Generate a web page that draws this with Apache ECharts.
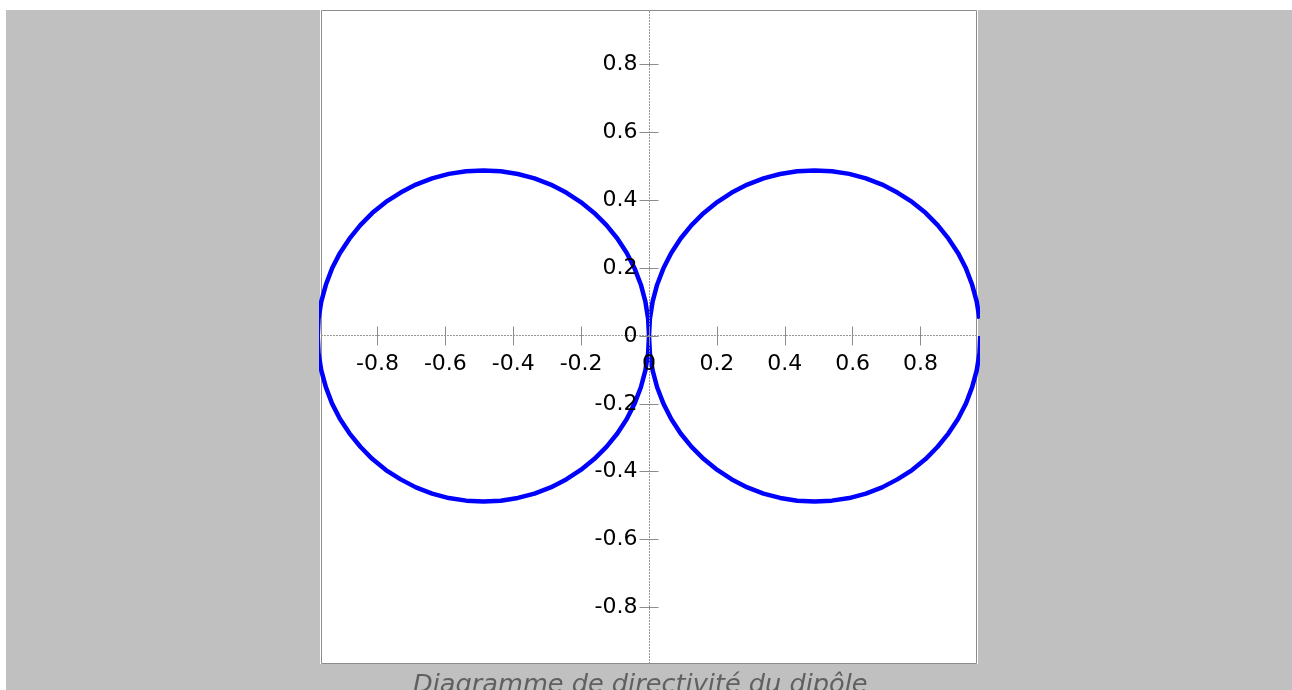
<!DOCTYPE html>
<html>
<head>
<meta charset="utf-8">
<title>Diagramme de directivité du dipôle</title>
<script src="https://cdn.jsdelivr.net/npm/echarts@6/dist/echarts.min.js"></script>
<style>
  html, body { margin: 0; padding: 0; background: #ffffff; }
  #chart { position: absolute; left: 6px; top: 10px; width: 1286px; height: 680px; background: #c0c0c0; }
</style>
</head>
<body>
<div id="chart"></div>
<script>
// Radiation pattern of the dipole, sampled every 3 degrees (polar: angle in degrees, radius)
const angles = [];
for (let a = 3; a <= 360; a += 3) angles.push(a);

const radii = [
  0.975, 0.971, 0.964, 0.955, 0.943, 0.928, 0.911, 0.892, 0.870, 0.845,
  0.819, 0.790, 0.759, 0.725, 0.690, 0.653, 0.614, 0.574, 0.532, 0.488,
  0.443, 0.397, 0.350, 0.302, 0.253, 0.203, 0.153, 0.102, 0.051, 0.000,
  0.051, 0.102, 0.153, 0.203, 0.253, 0.302, 0.350, 0.397, 0.443, 0.488,
  0.532, 0.574, 0.614, 0.653, 0.690, 0.725, 0.759, 0.790, 0.819, 0.845,
  0.870, 0.892, 0.911, 0.928, 0.943, 0.955, 0.964, 0.971, 0.975, 0.976,
  0.975, 0.971, 0.964, 0.955, 0.943, 0.928, 0.911, 0.892, 0.870, 0.845,
  0.819, 0.790, 0.759, 0.725, 0.690, 0.653, 0.614, 0.574, 0.532, 0.488,
  0.443, 0.397, 0.350, 0.302, 0.253, 0.203, 0.153, 0.102, 0.051, 0.000,
  0.051, 0.102, 0.153, 0.203, 0.253, 0.302, 0.350, 0.397, 0.443, 0.488,
  0.532, 0.574, 0.614, 0.653, 0.690, 0.725, 0.759, 0.790, 0.819, 0.845,
  0.870, 0.892, 0.911, 0.928, 0.943, 0.955, 0.964, 0.971, 0.975, 0.976
];

// Tick positions and labels shared by both axes
const tickValues = [-0.8, -0.6, -0.4, -0.2, 0, 0.2, 0.4, 0.6, 0.8];
const xRange = [-0.965, 0.965];
const yRange = [-0.965, 0.959];

const caption = 'Diagramme de directivité du dipôle';

// Polar samples -> cartesian points
const points = angles.map((a, i) => {
  const t = a * Math.PI / 180;
  return [radii[i] * Math.cos(t), radii[i] * Math.sin(t)];
});

// Plot box (square frame)
const GRID = { left: 315, top: 0, width: 656, height: 654 };

// Distance from each frame edge to the zero line, so the axes cross at the origin
const zeroFromLeft = GRID.width * (0 - xRange[0]) / (xRange[1] - xRange[0]);
const zeroFromRight = GRID.width - zeroFromLeft;
const zeroFromTop = GRID.height * (yRange[1] - 0) / (yRange[1] - yRange[0]);
const zeroFromBottom = GRID.height - zeroFromTop;

const FONT = 'DejaVu Sans';
const axisLineStyle = { color: '#8c8c8c', width: 1, type: [1, 2] };
const tickStyle = { color: '#8c8c8c', width: 1 };

function axisDef(range, position, offset, withLabels, margin) {
  return {
    type: 'value', position: position, offset: offset, min: range[0], max: range[1],
    z: 5,
    axisLine: { show: withLabels, onZero: false, lineStyle: axisLineStyle },
    axisTick: { show: true, inside: false, length: 10, customValues: tickValues, lineStyle: tickStyle },
    axisLabel: {
      show: withLabels, customValues: tickValues, margin: margin,
      fontFamily: FONT, fontSize: 22, color: '#000000',
      formatter: v => String(v)
    },
    splitLine: { show: false }
  };
}

const chart = echarts.init(document.getElementById('chart'), null, { renderer: 'canvas' });
chart.setOption({
  animation: false,
  backgroundColor: '#c0c0c0',
  title: {
    text: caption, left: 402, top: 657,
    textStyle: { fontFamily: FONT, fontSize: 25.6, fontStyle: 'italic', fontWeight: 'normal', color: '#606060' }
  },
  graphic: [{
    type: 'rect', z: -10, silent: true,
    shape: { x: GRID.left - 1, y: GRID.top, width: GRID.width + 2, height: GRID.height },
    style: { fill: '#ffffff' }
  }],
  grid: {
    left: GRID.left + 0.5, top: GRID.top + 0.5, width: GRID.width - 1, height: GRID.height - 1,
    show: true, backgroundColor: '#ffffff', borderColor: '#8c8c8c', borderWidth: 1,
    containLabel: false, outerBoundsMode: 'none'
  },
  xAxis: [
    axisDef(xRange, 'bottom', -zeroFromBottom, true, 18),
    axisDef(xRange, 'top', -zeroFromTop, false, 12)
  ],
  yAxis: [
    axisDef(yRange, 'left', -zeroFromLeft, true, 12),
    axisDef(yRange, 'right', -zeroFromRight, false, 12)
  ],
  series: [{
    type: 'line',
    xAxisIndex: 0, yAxisIndex: 0,
    data: points,
    showSymbol: false,
    clip: true,
    lineStyle: { color: '#0000ff', width: 4.5 },
    z: 2
  }]
});
</script>
</body>
</html>
